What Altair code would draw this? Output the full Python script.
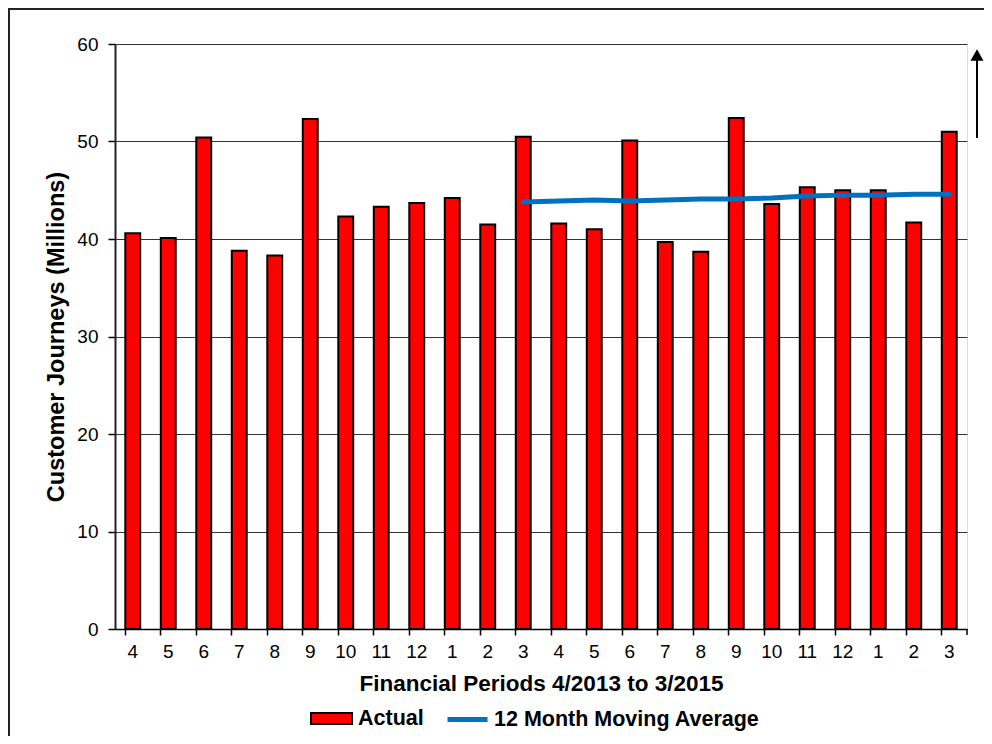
import altair as alt
import pandas as pd

periods = ["4", "5", "6", "7", "8", "9", "10", "11", "12", "1", "2", "3",
           "4", "5", "6", "7", "8", "9", "10", "11", "12", "1", "2", "3"]
actual = [40.6, 40.1, 50.4, 38.8, 38.3, 52.3, 42.3, 43.3, 43.7, 44.2, 41.5, 50.5,
          41.6, 41.0, 50.1, 39.7, 38.7, 52.4, 43.6, 45.3, 45.0, 45.0, 41.7, 51.0]
ma_start = 11
moving_avg = [43.8, 43.9, 44.0, 43.9, 44.0, 44.1, 44.1, 44.2, 44.4, 44.5, 44.5, 44.6, 44.6]

FONT = "Liberation Sans"
W, H = 852, 585

bars_df = pd.DataFrame({"idx": list(range(len(periods))), "value": actual, "s": "Actual"})
ma_df = pd.DataFrame({"idx": list(range(ma_start, ma_start + len(moving_avg))),
                      "value": moving_avg, "s2": "12 Month Moving Average"})

label_arr = "[" + ",".join("'%s'" % p for p in periods) + "]"

x_enc = alt.X("idx:O", title="Financial Periods 4/2013 to 3/2015",
              scale=alt.Scale(paddingInner=0.58, paddingOuter=0.29),
              axis=alt.Axis(labelExpr=label_arr + "[datum.value]", labelAngle=0,
                            bandPosition=0, tickSize=6, tickColor="#000", tickWidth=1.5,
                            domainColor="#000", domainWidth=1.5, labelPadding=7,
                            labelFontSize=19, labelFont=FONT, labelColor="#000",
                            titleFont=FONT, titleFontSize=22.5, titleFontWeight="bold",
                            titleColor="#000", titlePadding=11, grid=False))

y_scale = alt.Scale(domain=[0, 60], nice=False)
y_axis = alt.Axis(values=[0, 10, 20, 30, 40, 50, 60], tickSize=7, tickColor="#000",
                  tickWidth=1.5, domainColor="#222", domainWidth=2, labelPadding=10,
                  labelFontSize=19, labelFont=FONT, labelColor="#000",
                  titleFont=FONT, titleFontSize=23.5, titleFontWeight="bold",
                  titleColor="#000", titlePadding=8, grid=True, gridColor="#333",
                  gridWidth=1)

bars = alt.Chart(bars_df).mark_bar(stroke="black", strokeWidth=2).encode(
    x=x_enc,
    y=alt.Y("value:Q", scale=y_scale, axis=y_axis, title="Customer Journeys (Millions)"),
    fill=alt.Fill("s:N", scale=alt.Scale(domain=["Actual"], range=["#FF0000"]),
                  legend=alt.Legend(title=None, orient="none", legendX=195, legendY=653,
                                    symbolType="M-1,-0.265H1V0.265H-1Z", symbolSize=1681,
                                    symbolStrokeColor="black", symbolStrokeWidth=2,
                                    symbolFillColor="#FF0000", symbolOpacity=1,
                                    labelFont=FONT, labelFontSize=21.5, labelFontWeight="bold",
                                    labelColor="#000", labelOffset=5, labelLimit=400,
                                    padding=0)),
)

line = alt.Chart(ma_df).mark_line(strokeWidth=5, strokeCap="round").encode(
    x=alt.X("idx:O"),
    y=alt.Y("value:Q", scale=y_scale),
    stroke=alt.Stroke("s2:N", scale=alt.Scale(domain=["12 Month Moving Average"], range=["#0070C0"]),
                      legend=alt.Legend(title=None, orient="none", legendX=330, legendY=653,
                                        symbolType="stroke", symbolSize=1600,
                                        symbolStrokeWidth=5,
                                        labelFont=FONT, labelFontSize=21.5, labelFontWeight="bold",
                                        labelColor="#000", labelOffset=4, labelLimit=600,
                                        padding=0)),
)

one = alt.Data(values=[{"k": 1}])

border = alt.Chart(one).mark_rect(fillOpacity=0, stroke="#222", strokeWidth=2).encode(
    x=alt.value(-106), x2=alt.value(1000), y=alt.value(-35), y2=alt.value(900))

last_tick = alt.Chart(one).mark_rule(color="#000", strokeWidth=1.5).encode(
    x=alt.value(W), y=alt.value(H), y2=alt.value(H + 6))

arrow_shaft = alt.Chart(one).mark_rule(color="#000", strokeWidth=2).encode(
    x=alt.value(862), y=alt.value(94), y2=alt.value(14))
arrow_head = alt.Chart(one).mark_point(shape="triangle-up", filled=True, color="#000",
                                       size=170, opacity=1).encode(
    x=alt.value(862), y=alt.value(11))

chart = alt.layer(bars, line, border, last_tick, arrow_shaft, arrow_head).resolve_scale(
    fill="independent", stroke="independent"
).properties(
    width=W, height=H,
    padding={"left": 107, "top": 36, "right": 17, "bottom": 107},
    autosize=alt.AutoSizeParams(type="none"),
).configure_view(stroke="#000", strokeWidth=1.5).configure(background="white")

chart.save("out.html", embed_options={"renderer": "svg", "actions": False})
